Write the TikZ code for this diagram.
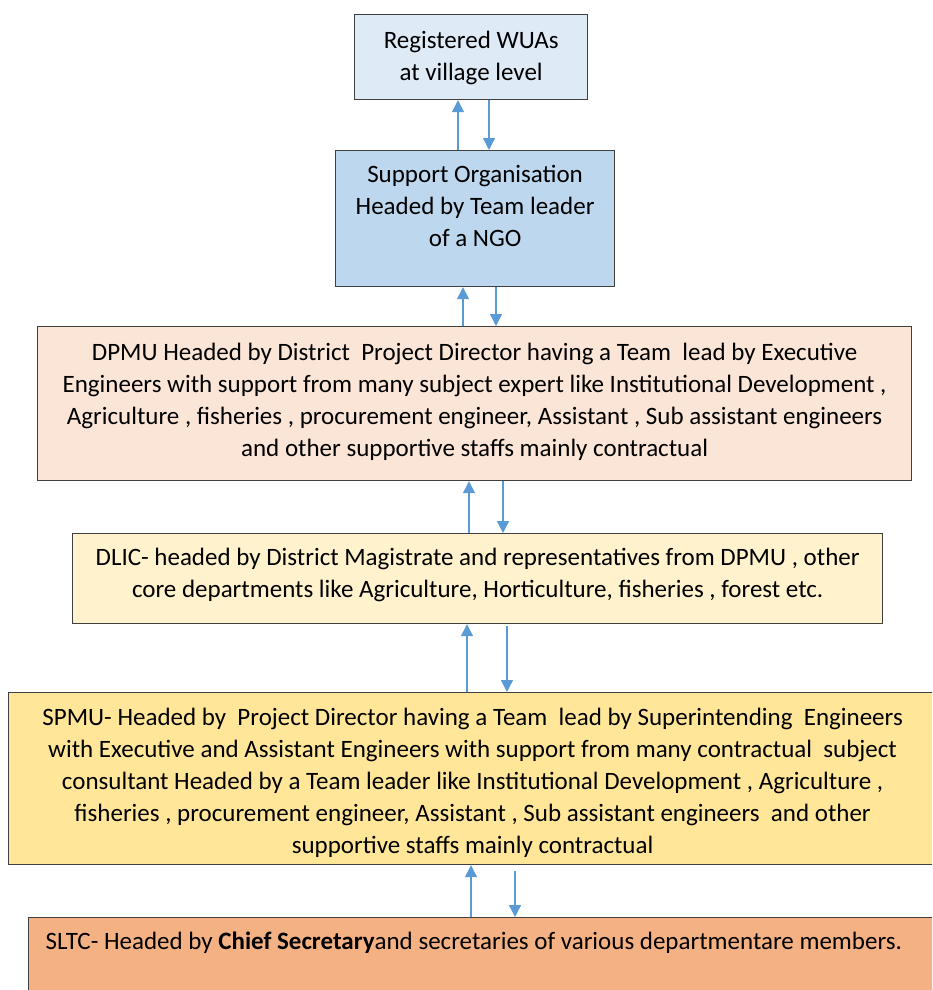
\documentclass[tikz,border=0pt]{standalone}
\usepackage{fontspec}
\setmainfont{Carlito}
\usetikzlibrary{arrows.meta}
\definecolor{cWUA}{HTML}{DEEBF7}
\definecolor{cSO}{HTML}{BDD7EE}
\definecolor{cDPMU}{HTML}{FBE5D6}
\definecolor{cDLIC}{HTML}{FFF2CC}
\definecolor{cSPMU}{HTML}{FFE699}
\definecolor{cSLTC}{HTML}{F4B183}
\definecolor{arrblue}{HTML}{5B9BD5}
\definecolor{edge}{HTML}{404040}
\newcommand{\boxtext}[4]{\parbox[c][#2pt][t]{#1pt}{\fontsize{25}{32}\selectfont\centering\rule{0pt}{#3pt}#4\par}}
\begin{document}
\begin{tikzpicture}[x=1pt,y=-1pt,
  orgbox/.style={draw=edge,line width=1.2pt,inner sep=0pt,anchor=north west},
  arr/.style={draw=arrblue,line width=1.4pt,-{Triangle[width=12pt,length=12pt]}}]
\useasboundingbox (0,0) rectangle (932,990);
\clip (0,0) rectangle (932,990);
\node[orgbox,fill=cWUA] (wua) at (354,14) {\boxtext{233}{85}{34}{Registered WUAs\\at village level}};
\node[orgbox,fill=cSO] (so) at (335,150) {\boxtext{279}{136}{32}{Support Organisation\\Headed by Team leader\\of a NGO}};
\node[orgbox,fill=cDPMU] (dpmu) at (37,326) {\boxtext{874}{154}{34}{DPMU Headed by District\ \ Project Director having a Team\ \ lead by Executive\\Engineers with support from many subject expert like Institutional Development ,\\Agriculture , fisheries , procurement engineer, Assistant , Sub assistant engineers\\and other supportive staffs mainly contractual}};
\node[orgbox,fill=cDLIC] (dlic) at (72,533) {\boxtext{810}{90}{32}{DLIC- headed by District Magistrate and representatives from DPMU , other\\core departments like Agriculture, Horticulture, fisheries , forest etc.}};
\node[orgbox,fill=cSPMU] (spmu) at (8,692) {\boxtext{928}{172}{33}{SPMU- Headed by\ \ Project Director having a Team\ \ lead by Superintending\ \ Engineers\\with Executive and Assistant Engineers with support from many contractual\ \ subject\\consultant Headed by a Team leader like Institutional Development , Agriculture ,\\fisheries , procurement engineer, Assistant , Sub assistant engineers\ \ and other\\supportive staffs mainly contractual}};
\node[orgbox,fill=cSLTC] (sltc) at (28,917) {\parbox[c][90pt][t]{920pt}{\fontsize{25}{32}\selectfont\raggedright\hspace*{17pt}\rule{0pt}{32pt}SLTC- Headed by \textbf{Chief Secretary}and secretaries of various departmentare members.\par}};
% arrow x positions
\coordinate (u1) at (458,0); \coordinate (d1) at (489,0);
\coordinate (u2) at (463,0); \coordinate (d2) at (496,0);
\coordinate (u3) at (469,0); \coordinate (d3) at (503,0);
\coordinate (u4) at (467,0); \coordinate (d4) at (507,0);
\coordinate (u5) at (471,0); \coordinate (d5) at (515,0);
\draw[arr] (so.north -| u1) -- (wua.south -| u1);
\draw[arr] (wua.south -| d1) -- (so.north -| d1);
\draw[arr] (dpmu.north -| u2) -- (so.south -| u2);
\draw[arr] (so.south -| d2) -- (dpmu.north -| d2);
\draw[arr] (dlic.north -| u3) -- (dpmu.south -| u3);
\draw[arr] (dpmu.south -| d3) -- (dlic.north -| d3);
\draw[arr] (spmu.north -| u4) -- (dlic.south -| u4);
\draw[arr] ([yshift=-2pt]dlic.south -| d4) -- (spmu.north -| d4);
\draw[arr] (sltc.north -| u5) -- (spmu.south -| u5);
\draw[arr] ([yshift=-6pt]spmu.south -| d5) -- (sltc.north -| d5);
\end{tikzpicture}
\end{document}
